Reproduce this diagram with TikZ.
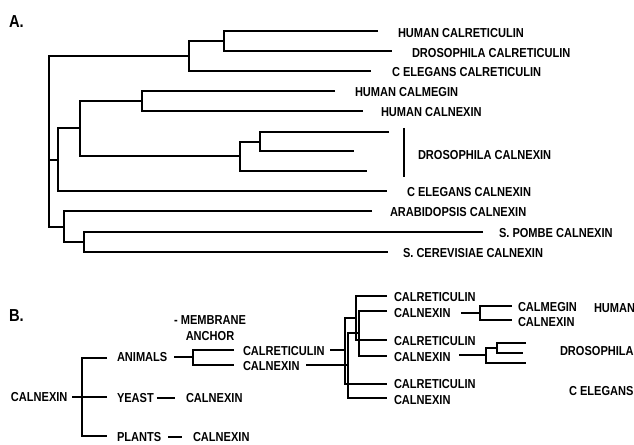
\documentclass[tikz,border=0pt]{standalone}
\usepackage{fontspec}
\setmainfont{Liberation Sans}[FakeStretch=0.85]

\tikzset{
    lbl/.style={anchor=west, inner sep=0pt, font=\fontsize{9.75}{11.7}\selectfont\bfseries},
    head/.style={anchor=west, inner sep=0pt, font=\fontsize{13}{15}\selectfont\bfseries}
}

\begin{document}
\begin{tikzpicture}[x=0.75pt, y=-0.75pt, line width=1.5pt]
    \useasboundingbox (0,0) rectangle (634,445);

    % A. full tree
    \node[head] (labA) at (8,22) {A.};

    \coordinate (hcrt) at (378,31);
    \coordinate (dcrt) at (392,51);
    \coordinate (ccrt) at (371,71);
    \coordinate (hcmg) at (335,91);
    \coordinate (hcnx) at (363,111);
    \coordinate (dcx1) at (389,132);
    \coordinate (dcx2) at (354,151);
    \coordinate (dcx3) at (367,171);
    \coordinate (ccnx) at (387,191);
    \coordinate (arab) at (372,211);
    \coordinate (spom) at (483,232);
    \coordinate (scer) at (388,252);

    \coordinate (n1) at (224,41);
    \coordinate (n2) at (189,56);
    \coordinate (n3) at (142,101);
    \coordinate (n4) at (260,142);
    \coordinate (n5) at (240,156);
    \coordinate (n6) at (80,128);
    \coordinate (n7) at (58,160);
    \coordinate (n8) at (84,242);
    \coordinate (n9) at (64,227);
    \coordinate (root) at (49,160);

    \draw (hcrt) -| (n1) |- (dcrt);
    \draw (n1) -| (n2) |- (ccrt);
    \draw (hcmg) -| (n3) |- (hcnx);
    \draw (dcx1) -| (n4) |- (dcx2);
    \draw (n4) -| (n5) |- (dcx3);
    \draw (n3) -| (n6) |- (n5);
    \draw (n6) -| (n7) |- (ccnx);
    \draw (spom) -| (n8) |- (scer);
    \draw (arab) -| (n9) |- (n8);
    \draw (n2) -| (root) |- (n9);
    \draw (n7) -- (root);

    \node[lbl] (thcrt) at (397,33) {HUMAN CALRETICULIN};
    \node[lbl] (tdcrt) at (411,53) {DROSOPHILA CALRETICULIN};
    \node[lbl] (tccrt) at (391,72) {C ELEGANS CALRETICULIN};
    \node[lbl] (thcmg) at (354,92) {HUMAN CALMEGIN};
    \node[lbl] (thcnx) at (380,112) {HUMAN CALNEXIN};
    \node[lbl] (tdcnx) at (417,155) {DROSOPHILA CALNEXIN};
    \node[lbl] (tccnx) at (406,192) {C ELEGANS CALNEXIN};
    \node[lbl] (tarab) at (389,212) {ARABIDOPSIS CALNEXIN};
    \node[lbl] (tspom) at (498,233) {S. POMBE CALNEXIN};
    \node[lbl] (tscer) at (402,253) {S. CEREVISIAE CALNEXIN};

    \coordinate (bart) at (404,128);
    \coordinate (barb) at (404,177);
    \draw (bart) -- (barb);

    % B. scheme
    \node[head] (labB) at (8,316) {B.};

    \node[lbl] (bcnx) at (10,397) {CALNEXIN};
    \node[lbl] (ani) at (116,357) {ANIMALS};
    \node[lbl] (yea) at (116,398) {YEAST};
    \node[lbl] (pla) at (116,437) {PLANTS};
    \node[lbl] (ycnx) at (185,398) {CALNEXIN};
    \node[lbl] (pcnx) at (192,437) {CALNEXIN};
    \node[lbl, align=center, anchor=center] (memb) at (210,328) {- MEMBRANE\\ANCHOR};
    \node[lbl] (acrt) at (242,351) {CALRETICULIN};
    \node[lbl] (acnx) at (242,366) {CALNEXIN};

    \coordinate (b0) at (82,397);
    \coordinate (bani) at (107,358);
    \coordinate (byea) at (107,397);
    \coordinate (bpla) at (107,436);
    \draw (bani) -| (b0) |- (bpla);
    \draw[shorten >=3pt] (byea) -- (byea -| bcnx.east);
    \draw[shorten <=1.5pt, shorten >=7.5pt] (yea.east) -- (yea.east -| ycnx.west);
    \draw[shorten <=4.5pt, shorten >=7.5pt] (pla.east) -- (pla.east -| pcnx.west);

    \coordinate (b1) at (193,357);
    \coordinate (b1a) at (234,350);
    \coordinate (b1b) at (234,365);
    \draw[shorten >=4.5pt] (b1) -- (b1 -| ani.east);
    \draw (b1a) -| (b1) |- (b1b);

    % calreticulin and calnexin branches
    \coordinate (c0) at (345,350);
    \coordinate (c1) at (356,318);
    \coordinate (tc1) at (387,296);
    \coordinate (tc2) at (387,340);
    \coordinate (tc3) at (387,384);
    \draw[shorten >=3pt] (c0) -- (c0 -| acrt.east);
    \draw (tc1) -| (c1) |- (tc2);
    \draw (c1) -| (c0) |- (tc3);

    \coordinate (x0) at (348,365);
    \coordinate (x1) at (359,333);
    \coordinate (tx1) at (387,311);
    \coordinate (tx2) at (387,356);
    \coordinate (tx3) at (387,398);
    \draw[shorten >=4.5pt] (x0) -- (x0 -| acnx.east);
    \draw (tx1) -| (x1) |- (tx2);
    \draw (x1) -| (x0) |- (tx3);

    \node[lbl] (rcrt1) at (393,297) {CALRETICULIN};
    \node[lbl] (rcnx1) at (393,313) {CALNEXIN};
    \node[lbl] (rcrt2) at (393,341) {CALRETICULIN};
    \node[lbl] (rcnx2) at (393,357) {CALNEXIN};
    \node[lbl] (rcrt3) at (393,384) {CALRETICULIN};
    \node[lbl] (rcnx3) at (393,400) {CALNEXIN};

    % human calnexin split
    \coordinate (h0) at (480,313);
    \coordinate (th1) at (512,306);
    \coordinate (th2) at (512,320);
    \draw[shorten >=7pt] (h0) -- (h0 -| rcnx1.east);
    \draw (th1) -| (h0) |- (th2);
    \node[lbl] (hcmg2) at (517,307) {CALMEGIN};
    \node[lbl] (hcnx2) at (517,322) {CALNEXIN};

    % drosophila calnexin split
    \coordinate (d0) at (486,355);
    \coordinate (d1) at (497,348);
    \coordinate (td1) at (526,343);
    \coordinate (td2) at (523,353);
    \coordinate (td3) at (526,363);
    \draw[shorten >=6pt] (d0) -- (d0 -| rcnx2.east);
    \draw (td1) -| (d1) |- (td2);
    \draw (d1) -| (d0) |- (td3);

    \node[lbl] (hum) at (593,308) {HUMAN};
    \node[lbl] (dro) at (559,351) {DROSOPHILA};
    \node[lbl] (cel) at (568,391) {C ELEGANS};
\end{tikzpicture}
\end{document}
